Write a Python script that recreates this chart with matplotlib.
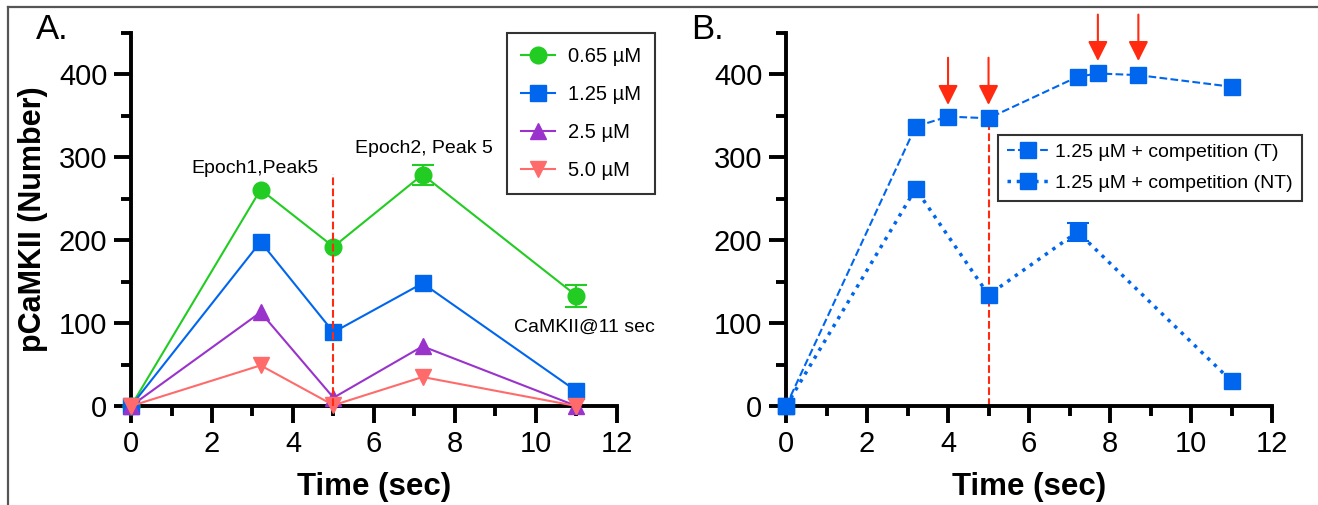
import matplotlib.pyplot as plt
from matplotlib.lines import Line2D
from matplotlib.ticker import MultipleLocator

plt.rcParams['font.family'] = ['Liberation Sans', 'DejaVu Sans']

# panel A data
t_a = [0, 3.2, 5, 7.2, 11]
c065 = [0, 261, 192, 279, 133]
c065_err = [0, 0, 0, 12, 13]
c125 = [0, 198, 89, 148, 18]
c25 = [0, 113, 10, 72, 0]
c50 = [0, 49, 1, 35, 0]

# panel B data
t_bt = [0, 3.2, 4, 5, 7.2, 7.7, 8.7, 11]
comp_t = [0, 337, 349, 347, 397, 401, 399, 385]
t_bnt = [0, 3.2, 5, 7.2, 11]
comp_nt = [0, 262, 134, 210, 30]
comp_nt_err = [0, 0, 0, 11, 0]

arrows_low = [4, 5]
arrows_high = [7.7, 8.7]

GREEN = '#22cc22'
BLUE = '#0066ee'
PURPLE = '#9933cc'
SALMON = '#ff6b6b'
RED = '#ff2a10'

fig = plt.figure(figsize=(13.18, 5.05), dpi=100)
# frame lines (top and left only)
fig.lines.append(Line2D([0.006, 1.0], [0.986, 0.986], transform=fig.transFigure,
                        color='#555555', linewidth=1.6))
fig.lines.append(Line2D([0.006, 0.006], [0.0, 0.986], transform=fig.transFigure,
                        color='#555555', linewidth=1.6))

axA = fig.add_axes([0.0994, 0.196, 0.3687, 0.739])
axB = fig.add_axes([0.5964, 0.196, 0.3687, 0.739])


def style(ax):
    ax.set_xlim(0, 12)
    ax.set_ylim(0, 450)
    ax.xaxis.set_major_locator(MultipleLocator(2))
    ax.xaxis.set_minor_locator(MultipleLocator(1))
    ax.yaxis.set_major_locator(MultipleLocator(100))
    ax.yaxis.set_minor_locator(MultipleLocator(50))
    ax.set_yticks([0, 100, 200, 300, 400])
    for s in ['top', 'right']:
        ax.spines[s].set_visible(False)
    for s in ['left', 'bottom']:
        ax.spines[s].set_linewidth(2.8)
    ax.tick_params(which='major', direction='out', length=12, width=2.8,
                   labelsize=21, pad=5)
    ax.tick_params(which='minor', direction='out', length=7, width=2.8)
    ax.set_xlabel('Time (sec)', fontsize=22.5, fontweight='bold', labelpad=10)


def err_bars(ax, t, y, err, color):
    # only points that have an error bar
    pts = [(a, b, e) for a, b, e in zip(t, y, err) if e > 0]
    ax.errorbar([p[0] for p in pts], [p[1] for p in pts], yerr=[p[2] for p in pts],
                fmt='none', ecolor=color, elinewidth=1.5, capsize=8, capthick=1.5,
                zorder=2)


ms = 12
kw = dict(linewidth=1.5, markersize=ms, clip_on=False, zorder=3)

h065, = axA.plot(t_a, c065, color=GREEN, marker='o', label='0.65 µM', **kw)
err_bars(axA, t_a, c065, c065_err, GREEN)
h125, = axA.plot(t_a, c125, color=BLUE, marker='s', label='1.25 µM', **kw)
h25, = axA.plot(t_a, c25, color=PURPLE, marker='^', label='2.5 µM', **kw)
h50, = axA.plot(t_a, c50, color=SALMON, marker='v', label='5.0 µM', **kw)
axA.plot([5, 5], [0, 280], color=RED, linestyle='--', linewidth=1.5, zorder=4)

axA.text(3.05, 287, 'Epoch1,Peak5', ha='center', va='center', fontsize=14)
axA.text(7.24, 310, 'Epoch2, Peak 5', ha='center', va='center', fontsize=14)
axA.text(9.45, 95, 'CaMKII@11 sec', ha='left', va='center', fontsize=14, clip_on=False)
axA.text(-2.35, 454, 'A.', fontsize=25, va='center')

style(axA)
axA.set_ylabel('pCaMKII (Number)', fontsize=22, fontweight='bold', labelpad=8)

legA = axA.legend([h065, h125, h25, h50], ['0.65 µM', '1.25 µM', '2.5 µM', '5.0 µM'],
                  loc='upper left', bbox_to_anchor=(0.774, 1.0), borderaxespad=0,
                  fontsize=14.5, frameon=True, fancybox=False, edgecolor='black',
                  labelspacing=0.95, handlelength=1.7, handletextpad=0.6,
                  borderpad=0.7)
legA.get_frame().set_linewidth(1.5)

hT, = axB.plot(t_bt, comp_t, color=BLUE, marker='s', linestyle='--', **kw)
hNT, = axB.plot(t_bnt, comp_nt, color=BLUE, marker='s', linestyle=':',
                **{**kw, 'linewidth': 2.5})
err_bars(axB, t_bnt, comp_nt, comp_nt_err, BLUE)
axB.plot([5, 5], [0, 347], color=RED, linestyle='--', linewidth=1.5, zorder=2)

for x in arrows_low:
    axB.annotate('', xy=(x, 363), xytext=(x, 420),
                 arrowprops=dict(arrowstyle='-|>', color=RED, lw=1.5,
                                 mutation_scale=30, shrinkA=0, shrinkB=0))
for x in arrows_high:
    axB.annotate('', xy=(x, 416), xytext=(x, 472), annotation_clip=False,
                 arrowprops=dict(arrowstyle='-|>', color=RED, lw=1.5,
                                 mutation_scale=30, shrinkA=0, shrinkB=0))
axB.text(-2.35, 454, 'B.', fontsize=25, va='center')

style(axB)

legB = axB.legend([hT, hNT], ['1.25 µM + competition (T)', '1.25 µM + competition (NT)'],
                  loc='upper left', bbox_to_anchor=(0.436, 0.727), borderaxespad=0,
                  fontsize=14, frameon=True, fancybox=False, edgecolor='black',
                  labelspacing=0.7, handlelength=2.2, borderpad=0.45,
                  handletextpad=0.3)
legB.get_frame().set_linewidth(1.5)

fig.savefig('out.png', dpi=100)
